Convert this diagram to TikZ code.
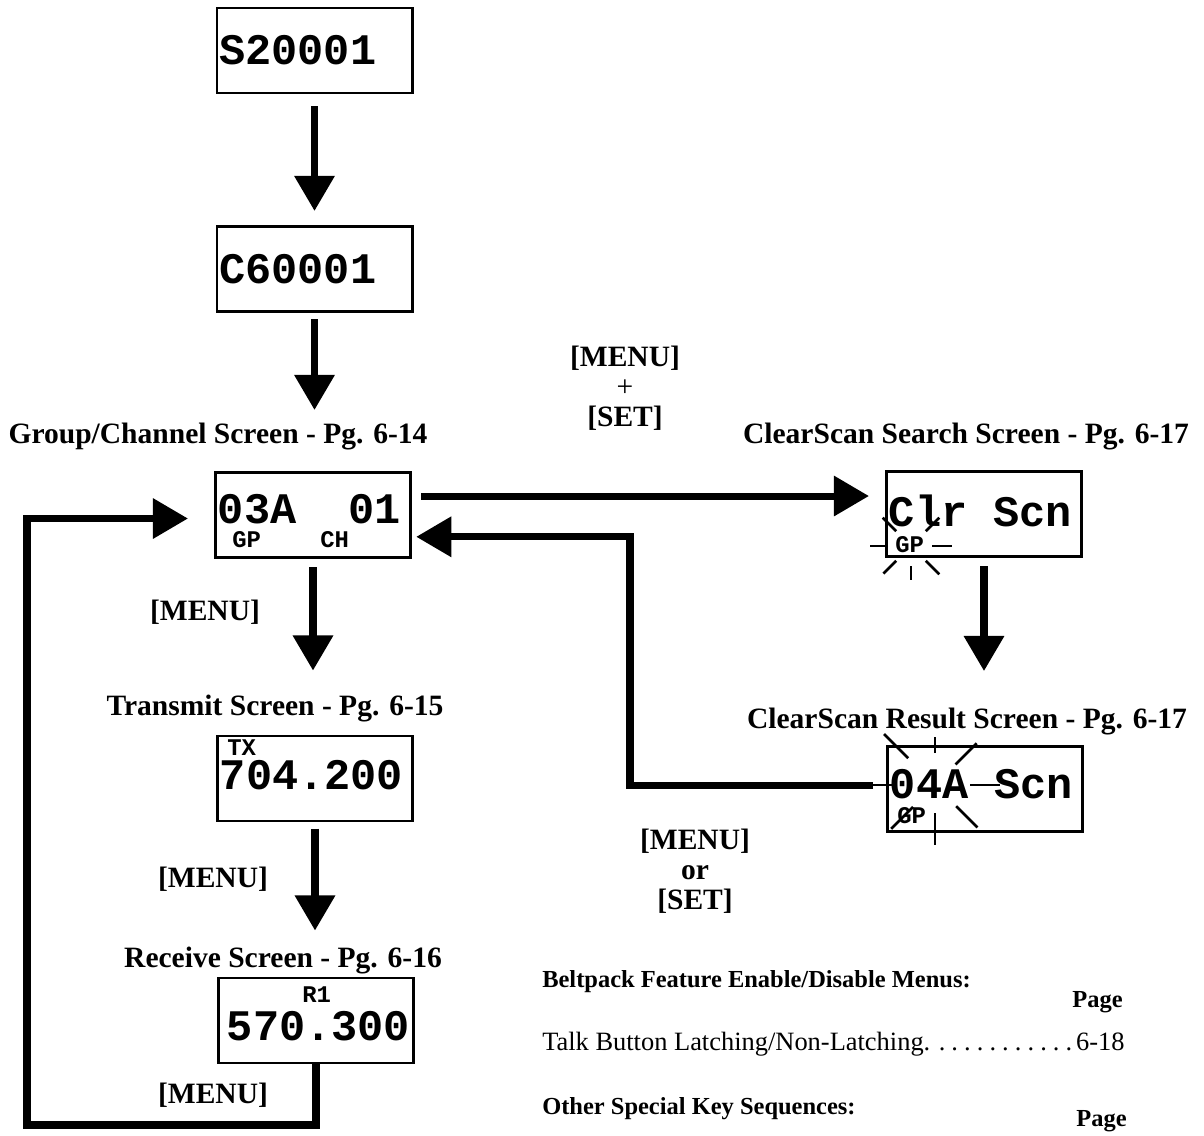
\documentclass[tikz,border=0pt]{standalone}
\usepackage{fontspec}
\setmainfont{Liberation Serif}
\newfontfamily\lcdfont{Liberation Mono}
\newcommand\lcdgap{\hspace*{0.6em}}
\newcommand\leaderdots{\leaders\hbox to 0.48em{\hss.\hss}\hfill}
\usetikzlibrary{positioning, arrows.meta}

\tikzset{
  screen/.style={draw, line width=2.1pt, minimum height=2.125cm, text width=4.755cm,
    inner xsep=0.06cm, inner ysep=0pt, align=left,
    font=\lcdfont\bfseries\fontsize{31}{31}\selectfont},
  tag/.style={inner sep=0pt, font=\lcdfont\bfseries\fontsize{17}{17}\selectfont},
  caption/.style={inner sep=0pt, align=center, font=\bfseries\fontsize{21}{21.3}\selectfont},
  note/.style={inner sep=0pt, anchor=base west, font=\fontsize{18.8}{18.8}\selectfont},
  head/.style={note, font=\bfseries\fontsize{17.4}{17.4}\selectfont},
  flow/.style={-{Triangle[width=27.7pt,length=25pt]}, line width=5pt},
  ray/.style={line width=1.9pt},
}

\begin{document}
\begin{tikzpicture}[x=0.025cm, y=-0.025cm]
  \useasboundingbox (0,0) rectangle (1204,1136);

  % screens
  \node[screen] (s2) at (314.5,50.5) {S20001};
  \node[screen] (c6) at (314.5,269) {C60001};
  \node[screen, text depth=8.5pt] (gc) at (313,515) {03A\lcdgap\lcdgap 01};
  \node[screen, text depth=5pt] (tx) at (315,778.5) {704.200};
  \node[screen, text height=29pt] (rx) at (316,1020.5) {\kern4.3pt570.300};
  \node[screen, text depth=4.3pt] (cs) at (984,514) {Clr\lcdgap Scn};
  \node[screen, text depth=7.1pt] (cr) at (985,789) {04A\lcdgap Scn};

  % small labels on the screens
  \node[tag, anchor=base west] (gp1) at (232,547) {GP};
  \node[tag, anchor=base west] (ch1) at (320,547) {CH};
  \node[tag, anchor=base west] (tx1) at (227,755) {TX};
  \node[tag, anchor=base west] (r1) at (302,1002) {R1};
  \node[tag, anchor=base west] (gp2) at (895,552) {GP};
  \node[tag, anchor=base west] (gp3) at (897,823) {GP};

  % blinking marks
  \coordinate (sp1) at (911,546);
  \coordinate (sp2) at (935,785);
  \foreach \a/\r/\l in {0/21/20, 180/23/18, 225/21/19, 315/21/19, 135/21/18, 90/20/14, 45/21/19}
    \draw[ray] (sp1) ++(\a:\r) -- ++(\a:\l);
  \foreach \a/\r/\l in {270/32/16, 225/38/34, 315/29/30, 180/38/29, 0/35/30, 135/31/31, 90/28/32, 45/30/30}
    \draw[ray] (sp2) ++(\a:\r) -- ++(\a:\l);

  % screen titles
  \node[caption, anchor=base] (gclab) at (218,443) {Group/Channel Screen - Pg. 6-14};
  \node[caption, anchor=base] (txlab) at (275,715) {Transmit Screen - Pg. 6-15};
  \node[caption, anchor=base] (rxlab) at (283,967) {Receive Screen - Pg. 6-16};
  \node[caption, anchor=base] (cslab) at (966,443) {ClearScan Search Screen - Pg. 6-17};
  \node[caption, anchor=base] (crlab) at (967,728) {ClearScan Result Screen - Pg. 6-17};

  % keys
  \node[caption, anchor=base] (key1) at (205,620) {[MENU]};
  \node[caption, anchor=base] (key2) at (213,887) {[MENU]};
  \node[caption, anchor=base] (key3) at (213,1103) {[MENU]};
  \node[caption, anchor=north] (key4) at (625,346) {[MENU]\\{\mdseries+}\\{[SET]}};
  \node[caption, anchor=north] (key5) at (695,829) {[MENU]\\or\\{[SET]}};

  % arrows
  \draw[flow, shorten <=8.5pt, shorten >=10pt] (s2.south) -- (s2.south |- c6.north);
  \draw[flow, shorten <=4.3pt, shorten >=43.4pt] (c6.south) -- (c6.south |- gc.north);
  \draw[flow, shorten <=5.7pt, shorten >=45.5pt] (gc.south) -- (gc.south |- tx.north);
  \draw[flow, shorten <=4.3pt, shorten >=32.7pt] (tx.south) -- (tx.south |- rx.north);
  \draw[flow, shorten <=5.7pt, shorten >=52.6pt] (cs.south) -- (cs.south |- cr.north);
  \draw[flow, shorten <=6.4pt, shorten >=11.4pt] ([yshift=13.5pt]gc.east) -- ([yshift=13.5pt]gc.east -| cs.west);

  \coordinate (lp) at (27,1125);
  \draw[flow, shorten >=18.5pt] (rx.south) |- (lp) |- ([yshift=-2.5pt]gc.west);
  \coordinate (rp) at (630,660);
  \draw[flow, shorten <=9.2pt, shorten >=3pt] ([yshift=2.8pt]cr.west) -| (rp) |- ([yshift=-15.5pt]gc.east);

  % feature list
  \node[head] (bhead) at (542,987) {Beltpack Feature Enable/Disable Menus:};
  \node[head, anchor=base east] (page1) at (1123,1007) {Page};
  \node[note] (talk) at (542,1050) {\hbox to 14.55cm{Talk Button Latching/Non-Latching.\leaderdots 6-18}};
  \node[head] (ohead) at (542,1114) {Other Special Key Sequences:};
  \node[head, anchor=base east] (page2) at (1127,1126) {Page};
\end{tikzpicture}
\end{document}
